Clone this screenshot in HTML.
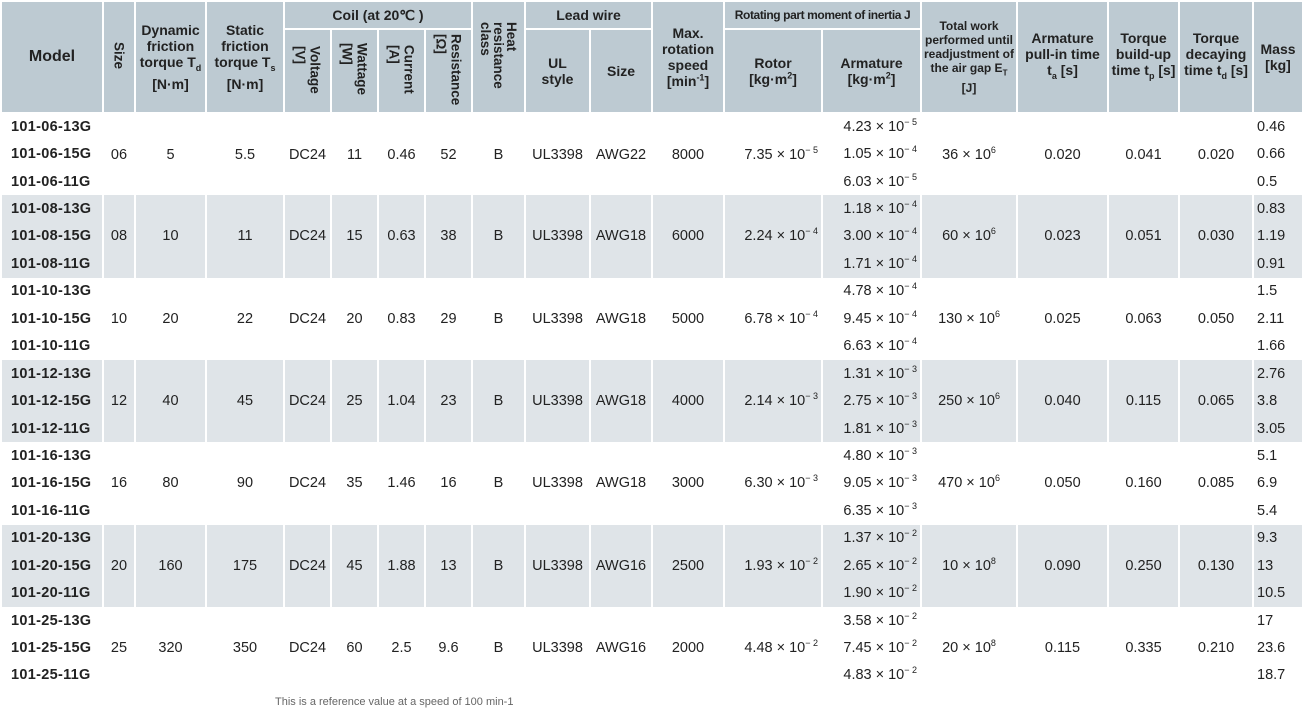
<!DOCTYPE html>
<html><head><meta charset="utf-8"><style>
body{margin:0;width:1302px;height:702px;overflow:hidden;background:#fff;font-family:"Liberation Sans",sans-serif;color:#222;}
table{border-collapse:collapse;table-layout:fixed;width:1302px;position:absolute;left:0;top:0;}
td,th{padding:0;text-align:center;font-size:14.5px;overflow:hidden;white-space:nowrap;}
th{border:2px solid #fff;background:#bdcad2;font-weight:bold;font-size:14px;line-height:16px;white-space:normal;color:#222;}
td{border-left:2px solid #fff;border-right:2px solid #fff;border-top:0;border-bottom:0;line-height:16px;}
th.v span{writing-mode:vertical-rl;display:inline-block;text-align:left;line-height:15px;font-size:13.5px;}
tr.d{height:27.45px;}
tr.g td{background:#dfe4e8;}
td.m{text-align:left;padding-left:9px;font-weight:bold;font-size:14.5px;letter-spacing:0.3px;}
td.r{text-align:right;padding-right:3px;font-size:14.5px;}
td.ms{text-align:left;padding-left:3px;}
sup{font-size:9px;line-height:0;}
.foot{position:absolute;left:275px;top:696px;font-size:11px;color:#666;}
</style></head><body>
<table>
<colgroup><col style="width:102px"><col style="width:32px"><col style="width:71px"><col style="width:78px"><col style="width:47px"><col style="width:47px"><col style="width:47px"><col style="width:47px"><col style="width:53px"><col style="width:65px"><col style="width:62px"><col style="width:72px"><col style="width:98px"><col style="width:99px"><col style="width:96px"><col style="width:91px"><col style="width:71px"><col style="width:74px"><col style="width:50px"></colgroup>
<tr style="height:28px"><th rowspan="2" style="font-size:16px">Model</th><th rowspan="2" class="v"><span>Size</span></th><th rowspan="2">Dynamic friction torque T<sub style="font-size:9px">d</sub> [N·m]</th><th rowspan="2">Static friction torque T<sub style="font-size:9px">s</sub> [N·m]</th><th colspan="4">Coil (at 20℃ )</th><th rowspan="2" class="v"><span style="line-height:13px">Heat<br>resistance<br>class</span></th><th colspan="2">Lead wire</th><th rowspan="2">Max. rotation speed [min<sup>-1</sup>]</th><th colspan="2" style="font-size:12px;letter-spacing:-0.4px">Rotating part moment of inertia J</th><th rowspan="2" style="font-size:12px;line-height:14px">Total work performed until readjustment of the air gap E<sub style="font-size:8px">T</sub> [J]</th><th rowspan="2">Armature pull-in time<br>t<sub style="font-size:9px">a</sub> [s]</th><th rowspan="2">Torque build-up time t<sub style="font-size:9px">p</sub> [s]</th><th rowspan="2">Torque decaying time t<sub style="font-size:9px">d</sub> [s]</th><th rowspan="2">Mass [kg]</th></tr>
<tr style="height:84px"><th class="v"><span>Voltage<br>[V]</span></th><th class="v"><span>Wattage<br>[W]</span></th><th class="v"><span>Current<br>[A]</span></th><th class="v"><span>Resistance<br>[Ω]</span></th><th>UL<br>style</th><th>Size</th><th>Rotor<br>[kg·m<sup>2</sup>]</th><th>Armature<br>[kg·m<sup>2</sup>]</th></tr>

<tr class="d"><td class="m">101-06-13G</td><td rowspan="3">06</td><td rowspan="3">5</td><td rowspan="3">5.5</td><td rowspan="3">DC24</td><td rowspan="3">11</td><td rowspan="3">0.46</td><td rowspan="3">52</td><td rowspan="3">B</td><td rowspan="3">UL3398</td><td rowspan="3">AWG22</td><td rowspan="3">8000</td><td rowspan="3" class="r">7.35 × 10<sup>− 5</sup></td><td class="r">4.23 × 10<sup>− 5</sup></td><td rowspan="3">36 × 10<sup>6</sup></td><td rowspan="3">0.020</td><td rowspan="3">0.041</td><td rowspan="3">0.020</td><td class="ms">0.46</td></tr>
<tr class="d"><td class="m">101-06-15G</td><td class="r">1.05 × 10<sup>− 4</sup></td><td class="ms">0.66</td></tr>
<tr class="d"><td class="m">101-06-11G</td><td class="r">6.03 × 10<sup>− 5</sup></td><td class="ms">0.5</td></tr>

<tr class="d g"><td class="m">101-08-13G</td><td rowspan="3">08</td><td rowspan="3">10</td><td rowspan="3">11</td><td rowspan="3">DC24</td><td rowspan="3">15</td><td rowspan="3">0.63</td><td rowspan="3">38</td><td rowspan="3">B</td><td rowspan="3">UL3398</td><td rowspan="3">AWG18</td><td rowspan="3">6000</td><td rowspan="3" class="r">2.24 × 10<sup>− 4</sup></td><td class="r">1.18 × 10<sup>− 4</sup></td><td rowspan="3">60 × 10<sup>6</sup></td><td rowspan="3">0.023</td><td rowspan="3">0.051</td><td rowspan="3">0.030</td><td class="ms">0.83</td></tr>
<tr class="d g"><td class="m">101-08-15G</td><td class="r">3.00 × 10<sup>− 4</sup></td><td class="ms">1.19</td></tr>
<tr class="d g"><td class="m">101-08-11G</td><td class="r">1.71 × 10<sup>− 4</sup></td><td class="ms">0.91</td></tr>

<tr class="d"><td class="m">101-10-13G</td><td rowspan="3">10</td><td rowspan="3">20</td><td rowspan="3">22</td><td rowspan="3">DC24</td><td rowspan="3">20</td><td rowspan="3">0.83</td><td rowspan="3">29</td><td rowspan="3">B</td><td rowspan="3">UL3398</td><td rowspan="3">AWG18</td><td rowspan="3">5000</td><td rowspan="3" class="r">6.78 × 10<sup>− 4</sup></td><td class="r">4.78 × 10<sup>− 4</sup></td><td rowspan="3">130 × 10<sup>6</sup></td><td rowspan="3">0.025</td><td rowspan="3">0.063</td><td rowspan="3">0.050</td><td class="ms">1.5</td></tr>
<tr class="d"><td class="m">101-10-15G</td><td class="r">9.45 × 10<sup>− 4</sup></td><td class="ms">2.11</td></tr>
<tr class="d"><td class="m">101-10-11G</td><td class="r">6.63 × 10<sup>− 4</sup></td><td class="ms">1.66</td></tr>

<tr class="d g"><td class="m">101-12-13G</td><td rowspan="3">12</td><td rowspan="3">40</td><td rowspan="3">45</td><td rowspan="3">DC24</td><td rowspan="3">25</td><td rowspan="3">1.04</td><td rowspan="3">23</td><td rowspan="3">B</td><td rowspan="3">UL3398</td><td rowspan="3">AWG18</td><td rowspan="3">4000</td><td rowspan="3" class="r">2.14 × 10<sup>− 3</sup></td><td class="r">1.31 × 10<sup>− 3</sup></td><td rowspan="3">250 × 10<sup>6</sup></td><td rowspan="3">0.040</td><td rowspan="3">0.115</td><td rowspan="3">0.065</td><td class="ms">2.76</td></tr>
<tr class="d g"><td class="m">101-12-15G</td><td class="r">2.75 × 10<sup>− 3</sup></td><td class="ms">3.8</td></tr>
<tr class="d g"><td class="m">101-12-11G</td><td class="r">1.81 × 10<sup>− 3</sup></td><td class="ms">3.05</td></tr>

<tr class="d"><td class="m">101-16-13G</td><td rowspan="3">16</td><td rowspan="3">80</td><td rowspan="3">90</td><td rowspan="3">DC24</td><td rowspan="3">35</td><td rowspan="3">1.46</td><td rowspan="3">16</td><td rowspan="3">B</td><td rowspan="3">UL3398</td><td rowspan="3">AWG18</td><td rowspan="3">3000</td><td rowspan="3" class="r">6.30 × 10<sup>− 3</sup></td><td class="r">4.80 × 10<sup>− 3</sup></td><td rowspan="3">470 × 10<sup>6</sup></td><td rowspan="3">0.050</td><td rowspan="3">0.160</td><td rowspan="3">0.085</td><td class="ms">5.1</td></tr>
<tr class="d"><td class="m">101-16-15G</td><td class="r">9.05 × 10<sup>− 3</sup></td><td class="ms">6.9</td></tr>
<tr class="d"><td class="m">101-16-11G</td><td class="r">6.35 × 10<sup>− 3</sup></td><td class="ms">5.4</td></tr>

<tr class="d g"><td class="m">101-20-13G</td><td rowspan="3">20</td><td rowspan="3">160</td><td rowspan="3">175</td><td rowspan="3">DC24</td><td rowspan="3">45</td><td rowspan="3">1.88</td><td rowspan="3">13</td><td rowspan="3">B</td><td rowspan="3">UL3398</td><td rowspan="3">AWG16</td><td rowspan="3">2500</td><td rowspan="3" class="r">1.93 × 10<sup>− 2</sup></td><td class="r">1.37 × 10<sup>− 2</sup></td><td rowspan="3">10 × 10<sup>8</sup></td><td rowspan="3">0.090</td><td rowspan="3">0.250</td><td rowspan="3">0.130</td><td class="ms">9.3</td></tr>
<tr class="d g"><td class="m">101-20-15G</td><td class="r">2.65 × 10<sup>− 2</sup></td><td class="ms">13</td></tr>
<tr class="d g"><td class="m">101-20-11G</td><td class="r">1.90 × 10<sup>− 2</sup></td><td class="ms">10.5</td></tr>

<tr class="d"><td class="m">101-25-13G</td><td rowspan="3">25</td><td rowspan="3">320</td><td rowspan="3">350</td><td rowspan="3">DC24</td><td rowspan="3">60</td><td rowspan="3">2.5</td><td rowspan="3">9.6</td><td rowspan="3">B</td><td rowspan="3">UL3398</td><td rowspan="3">AWG16</td><td rowspan="3">2000</td><td rowspan="3" class="r">4.48 × 10<sup>− 2</sup></td><td class="r">3.58 × 10<sup>− 2</sup></td><td rowspan="3">20 × 10<sup>8</sup></td><td rowspan="3">0.115</td><td rowspan="3">0.335</td><td rowspan="3">0.210</td><td class="ms">17</td></tr>
<tr class="d"><td class="m">101-25-15G</td><td class="r">7.45 × 10<sup>− 2</sup></td><td class="ms">23.6</td></tr>
<tr class="d"><td class="m">101-25-11G</td><td class="r">4.83 × 10<sup>− 2</sup></td><td class="ms">18.7</td></tr>
</table>
<div class="foot">This is a reference value at a speed of 100 min-1</div>
</body></html>
